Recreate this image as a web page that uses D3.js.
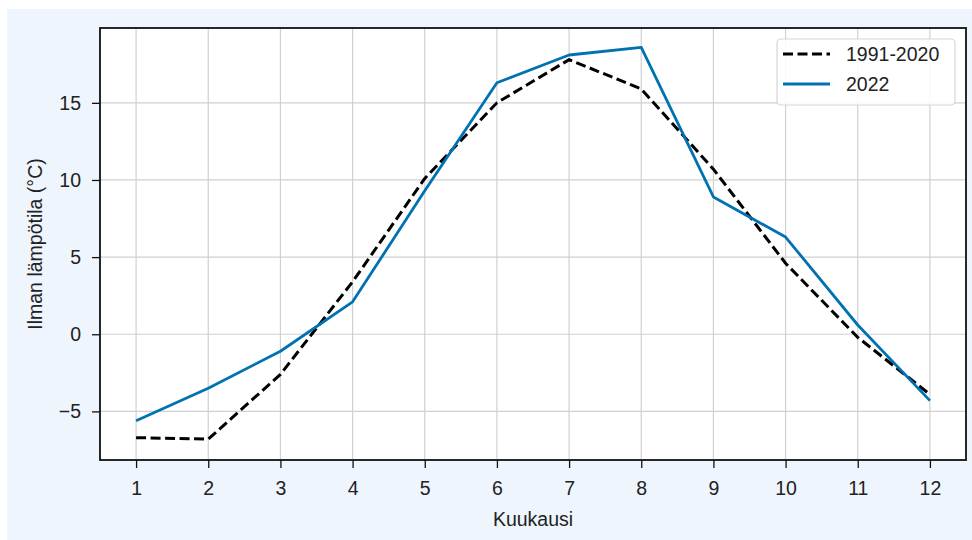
<!DOCTYPE html>
<html>
<head>
<meta charset="utf-8">
<script src="https://cdn.jsdelivr.net/npm/d3@7"></script>
<style>
  body { margin: 0; background: #ffffff; }
  svg text { font-family: "Liberation Sans", Arial, sans-serif; fill: #222; }
</style>
</head>
<body>
<script>
'use strict';

// chart data
const months = [1, 2, 3, 4, 5, 6, 7, 8, 9, 10, 11, 12];
const normal19912020 = [-6.7, -6.8, -2.6, 3.4, 10.1, 15.0, 17.8, 15.9, 10.7, 4.6, -0.2, -3.9];
const temps2022 = [-5.6, -3.5, -1.1, 2.1, 9.3, 16.3, 18.1, 18.6, 8.9, 6.3, 0.6, -4.3];
const yTicks = [-5, 0, 5, 10, 15];
const seriesNames = ["1991-2020", "2022"];

const measurements = {
  width: 972,
  height: 540,
  left: 100,
  right: 966,
  top: 28,
  bottom: 460,
  font: '19.5px'
};

const svg = d3.select('body')
  .append('svg')
  .attr('width', measurements.width)
  .attr('height', measurements.height);

// light blue panel behind the figure
svg.append('rect')
  .attr('x', 7)
  .attr('y', 9)
  .attr('width', measurements.width - 7)
  .attr('height', measurements.height - 9)
  .attr('fill', '#eef5fd');

// plot area
svg.append('rect')
  .attr('x', measurements.left)
  .attr('y', measurements.top)
  .attr('width', measurements.right - measurements.left)
  .attr('height', measurements.bottom - measurements.top)
  .attr('fill', '#ffffff');

const xScale = d3.scaleLinear()
  .domain([0.5, 12.5])
  .range([measurements.left, measurements.right]);

const yScale = d3.scaleLinear()
  .domain([-8.15, 19.85])
  .range([measurements.bottom, measurements.top]);

// grid lines
svg.append('g')
  .selectAll('line')
  .data(months)
  .enter()
  .append('line')
  .attr('x1', d => xScale(d))
  .attr('x2', d => xScale(d))
  .attr('y1', measurements.top)
  .attr('y2', measurements.bottom)
  .attr('stroke', '#d0d0d0')
  .attr('stroke-width', 1.2);

svg.append('g')
  .selectAll('line')
  .data(yTicks)
  .enter()
  .append('line')
  .attr('x1', measurements.left)
  .attr('x2', measurements.right)
  .attr('y1', d => yScale(d))
  .attr('y2', d => yScale(d))
  .attr('stroke', '#d0d0d0')
  .attr('stroke-width', 1.2);

// axes
const xAxis = d3.axisBottom(xScale)
  .tickValues(months)
  .tickFormat(d3.format('d'))
  .tickSize(8)
  .tickPadding(13)
  .tickSizeOuter(0);
const gx = svg.append('g')
  .attr('transform', 'translate(0,' + measurements.bottom + ')')
  .call(xAxis);

const yAxis = d3.axisLeft(yScale)
  .tickValues(yTicks)
  .tickFormat(d => d < 0 ? '\u2212' + Math.abs(d) : d)
  .tickSize(8)
  .tickPadding(11)
  .tickSizeOuter(0);
const gy = svg.append('g')
  .attr('transform', 'translate(' + measurements.left + ',0)')
  .call(yAxis);

[gx, gy].forEach(g => {
  g.select('.domain').remove();
  g.selectAll('.tick line').attr('stroke', '#111').attr('stroke-width', 1.3);
  g.selectAll('.tick text')
    .style('font-size', measurements.font)
    .style('font-family', '"Liberation Sans", Arial, sans-serif')
    .attr('fill', '#222');
});

// lines
const line = d3.line()
  .x((d, i) => xScale(months[i]))
  .y(d => yScale(d));

svg.append('path')
  .datum(normal19912020)
  .attr('fill', 'none')
  .attr('stroke', '#000')
  .attr('stroke-width', 3)
  .attr('stroke-dasharray', '10,4.5')
  .attr('d', line);

svg.append('path')
  .datum(temps2022)
  .attr('fill', 'none')
  .attr('stroke', '#0072b2')
  .attr('stroke-width', 2.8)
  .attr('stroke-linejoin', 'round')
  .attr('d', line);

// frame
svg.append('rect')
  .attr('x', measurements.left)
  .attr('y', measurements.top)
  .attr('width', measurements.right - measurements.left)
  .attr('height', measurements.bottom - measurements.top)
  .attr('fill', 'none')
  .attr('stroke', '#111')
  .attr('stroke-width', 1.8);

// legend
const legend = svg.append('g');
legend.append('rect')
  .attr('x', 777)
  .attr('y', 39)
  .attr('width', 178)
  .attr('height', 66)
  .attr('rx', 4)
  .attr('fill', 'rgba(255,255,255,0.85)')
  .attr('stroke', '#d6d6d6')
  .attr('stroke-width', 1.2);

const legendStyles = [
  { color: '#000', dash: '10,4.5', width: 3 },
  { color: '#0072b2', dash: null, width: 2.8 }
];
seriesNames.forEach((name, i) => {
  const y = 54 + i * 30;
  legend.append('line')
    .attr('x1', 783)
    .attr('x2', 830)
    .attr('y1', y)
    .attr('y2', y)
    .attr('stroke', legendStyles[i].color)
    .attr('stroke-width', legendStyles[i].width)
    .attr('stroke-dasharray', legendStyles[i].dash);
  legend.append('text')
    .attr('x', 846)
    .attr('y', y + 7)
    .style('font-size', measurements.font)
    .text(name);
});

// axis labels
svg.append('text')
  .attr('x', (measurements.left + measurements.right) / 2)
  .attr('y', 526)
  .attr('text-anchor', 'middle')
  .style('font-size', measurements.font)
  .text('Kuukausi');

svg.append('text')
  .attr('transform', 'translate(42,' + (measurements.top + measurements.bottom) / 2 + ')rotate(-90)')
  .attr('text-anchor', 'middle')
  .style('font-size', measurements.font)
  .text('Ilman lämpötila (°C)');
</script>
</body>
</html>
